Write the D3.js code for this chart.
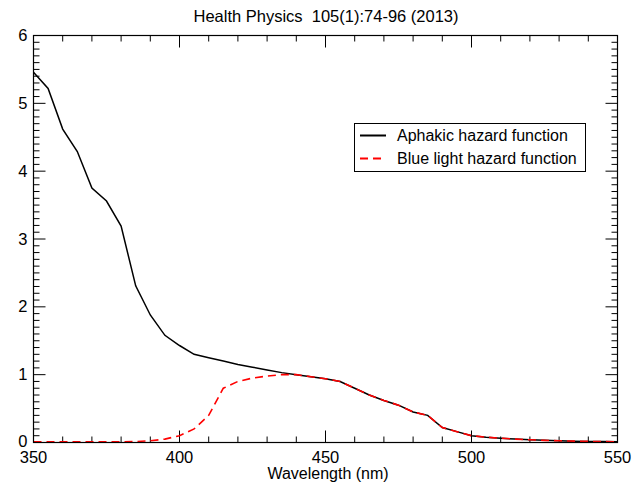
<!DOCTYPE html>
<html><head><meta charset="utf-8">
<script src="https://cdn.jsdelivr.net/npm/d3@7"></script>
<style>body{margin:0;background:#fff}svg{display:block}text{font-family:"Liberation Sans",Arial,sans-serif;fill:#000;white-space:pre}</style>
</head><body>
<script>
const wavelengths = [350,355,360,365,370,375,380,385,390,395,400,405,410,415,420,425,430,435,440,445,450,455,460,465,470,475,480,485,490,495,500,505,510,515,520,525,530,535,540,545,550];
const aphakic = [5.46,5.22,4.62,4.29,3.75,3.56,3.19,2.31,1.88,1.58,1.43,1.30,1.25,1.20,1.15,1.11,1.07,1.03,1.00,0.97,0.94,0.90,0.80,0.70,0.62,0.55,0.45,0.40,0.22,0.16,0.10,0.079,0.063,0.050,0.040,0.032,0.025,0.020,0.016,0.013,0.010];
const blueLight = [0.01,0.01,0.01,0.01,0.01,0.01,0.01,0.013,0.025,0.05,0.10,0.20,0.40,0.80,0.90,0.95,0.98,1.00,1.00,0.97,0.94,0.90,0.80,0.70,0.62,0.55,0.45,0.40,0.22,0.16,0.10,0.079,0.063,0.050,0.040,0.032,0.025,0.020,0.016,0.013,0.010];
const xTicks = [350,400,450,500,550];
const yTicks = [0,1,2,3,4,5,6];
const title = "Health Physics  105(1):74-96 (2013)";
const xLabel = "Wavelength (nm)";
const seriesNames = ["Aphakic hazard function","Blue light hazard function"];

const W=637,H=484;
const L=33.5,R=617.5,T=35.5,B=442.5;
const svg=d3.select("body").append("svg").attr("width",W).attr("height",H);
const x=d3.scaleLinear().domain([350,550]).range([L,R]);
const y=d3.scaleLinear().domain([0,6]).range([B,T]);

const minorX=d3.range(350,551,10), minorY=d3.range(0,6.001,0.1).map(v=>+v.toFixed(1));
const g=svg.append("g");
function isMajX(v){return v%50===0;}
function isMajY(v){return Math.abs(v-Math.round(v))<1e-6;}
minorX.forEach(v=>{
  const len=isMajX(v)?12:6;
  g.append("line").attr("x1",x(v)).attr("x2",x(v)).attr("y1",B).attr("y2",B-len).attr("stroke","#000");
  g.append("line").attr("x1",x(v)).attr("x2",x(v)).attr("y1",T).attr("y2",T+len).attr("stroke","#000");
});
minorY.forEach(v=>{
  const len=isMajY(v)?12:6;
  g.append("line").attr("y1",y(v)).attr("y2",y(v)).attr("x1",L).attr("x2",L+len).attr("stroke","#000");
  g.append("line").attr("y1",y(v)).attr("y2",y(v)).attr("x1",R).attr("x2",R-len).attr("stroke","#000");
});
xTicks.forEach(v=>g.append("text").attr("x",x(v)).attr("y",B+20.5).attr("text-anchor","middle").attr("font-size",16.5).text(v));
yTicks.forEach(v=>g.append("text").attr("x",L-6).attr("y",y(v)+(v===0?4.5:5.5)).attr("text-anchor","end").attr("font-size",16.5).text(v));

const line=d3.line().x((d,i)=>x(wavelengths[i])).y(d=>y(d));
svg.append("path").datum(aphakic).attr("d",line).attr("fill","none").attr("stroke","#000").attr("stroke-width",1.5);
svg.append("path").datum(blueLight).attr("d",line).attr("fill","none").attr("stroke","#ff0000").attr("stroke-width",1.6).attr("stroke-dasharray","8,5");

svg.append("rect").attr("x",L).attr("y",T).attr("width",R-L).attr("height",B-T).attr("fill","none").attr("stroke","#000").attr("stroke-width",1.2);

svg.append("text").attr("x",326).attr("y",22).attr("text-anchor","middle").attr("font-size",16.5).text(title);
svg.append("text").attr("x",328).attr("y",479).attr("text-anchor","middle").attr("font-size",16).text(xLabel);

const lg=svg.append("g");
lg.append("rect").attr("x",354.5).attr("y",123.5).attr("width",231).attr("height",48).attr("fill","#fff").attr("stroke","#000").attr("stroke-width",1);
const styles=[{c:"#000",d:null},{c:"#ff0000",d:"8,5"}];
seriesNames.forEach((n,i)=>{
  const yy=135.5+i*23;
  lg.append("line").attr("x1",360).attr("x2",386).attr("y1",yy).attr("y2",yy).attr("stroke",styles[i].c).attr("stroke-width",2).attr("stroke-dasharray",styles[i].d);
  lg.append("text").attr("x",397).attr("y",yy+5.5).attr("font-size",16).text(n);
});
</script>
</body></html>
